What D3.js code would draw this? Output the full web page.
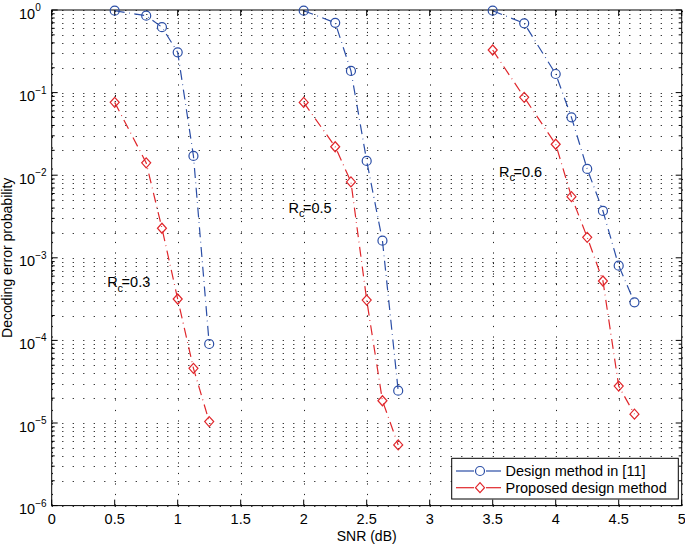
<!DOCTYPE html>
<html><head><meta charset="utf-8">
<script src="https://cdn.jsdelivr.net/npm/d3@7"></script>
<style>
body{margin:0;background:#fff;}
svg{display:block;font-family:"Liberation Sans",Arial,Helvetica,sans-serif;}
</style></head><body>
<svg id="c" width="685" height="544"></svg>
<script>
// ---- data ----
const snr03 = [0.5, 0.75, 0.875, 1.0, 1.125, 1.25];
const ref03 = [0.98, 0.853, 0.62, 0.307, 0.0171, 9.05e-5];
const prop03 = [0.0762, 0.0141, 0.00228, 3.17e-4, 4.59e-5, 1.04e-5];

const snr05 = [2.0, 2.25, 2.375, 2.5, 2.625, 2.75];
const ref05 = [0.98, 0.70, 0.183, 0.0149, 0.00161, 2.46e-5];
const prop05 = [0.076, 0.0221, 0.0083, 3.08e-4, 1.86e-5, 5.42e-6];

const snr06 = [3.5, 3.75, 4.0, 4.125, 4.25, 4.375, 4.5, 4.625];
const ref06 = [0.98, 0.69, 0.168, 0.0502, 0.0119, 0.00369, 8.03e-4, 2.89e-4];
const prop06 = [0.328, 0.0877, 0.0237, 0.0055, 0.00177, 5.24e-4, 2.8e-5, 1.28e-5];

const xTicks = [0, 0.5, 1, 1.5, 2, 2.5, 3, 3.5, 4, 4.5, 5];
const yExps = [0, -1, -2, -3, -4, -5, -6];
const rateLabels = [
  {snr: 0.44, p: 4.4e-4, rate: "0.3"},
  {snr: 1.88, p: 3.5e-3, rate: "0.5"},
  {snr: 3.55, p: 9.6e-3, rate: "0.6"}
];
const legendItems = ["Design method in [11]", "Proposed design method"];

// ---- layout ----
const L = 51.7, R = 681.7, T = 10, B = 505.6;
const blue = "#2b4ea6", red = "#e0262b";
const FS = 14.5;
const svg = d3.select("#c");
const x = d3.scaleLinear().domain([0, 5]).range([L, R]);
const y = d3.scaleLog().domain([1e-6, 1]).range([B, T]);

// grid
const grid = svg.append("g").attr("stroke", "#222").attr("stroke-width", 1)
  .attr("stroke-dasharray", "1.2,9.3");
const yGridVals = [];
for (let e = -6; e < 0; e++) for (let m = 1; m <= 9; m++) yGridVals.push(m * Math.pow(10, e));
yGridVals.push(1);
yGridVals.forEach(v => {
  const yy = Math.round(y(v)) + 0.5;
  grid.append("line").attr("x1", L).attr("x2", R).attr("y1", yy).attr("y2", yy);
});
xTicks.forEach(v => {
  const xx = Math.round(x(v)) + 0.5;
  grid.append("line").attr("x1", xx).attr("x2", xx).attr("y1", B).attr("y2", T);
});

// axes box + ticks
const ax = svg.append("g").attr("stroke", "#000").attr("stroke-width", 1).attr("fill", "none");
ax.append("rect").attr("x", L).attr("y", T).attr("width", R - L).attr("height", B - T);
xTicks.forEach(v => {
  const xx = x(v);
  ax.append("line").attr("x1", xx).attr("x2", xx).attr("y1", B).attr("y2", B - 6);
  ax.append("line").attr("x1", xx).attr("x2", xx).attr("y1", T).attr("y2", T + 6);
});
yGridVals.forEach(v => {
  const yy = y(v);
  const major = Math.abs(Math.log10(v) - Math.round(Math.log10(v))) < 1e-9;
  const len = major ? 6 : 3;
  ax.append("line").attr("x1", L).attr("x2", L + len).attr("y1", yy).attr("y2", yy);
  ax.append("line").attr("x1", R).attr("x2", R - len).attr("y1", yy).attr("y2", yy);
});

// tick labels
const tl = svg.append("g").attr("font-size", FS).attr("fill", "#000");
xTicks.forEach(v => {
  tl.append("text").attr("x", x(v)).attr("y", 524).attr("text-anchor", "middle").text(d3.format("")(v));
});
yExps.forEach(e => {
  const t = tl.append("text").attr("x", 19).attr("y", y(Math.pow(10, e)) + 8.5);
  t.append("tspan").text("10");
  t.append("tspan").attr("font-size", 10).attr("dy", -7.5).text(e === 0 ? "0" : "\u2212" + Math.abs(e));
});
svg.append("text").attr("font-size", 14).attr("text-anchor", "middle")
  .attr("x", (L + R) / 2).attr("y", 541).text("SNR (dB)");
svg.append("text").attr("font-size", 14).attr("text-anchor", "middle")
  .attr("transform", `translate(12,${(T + B) / 2}) rotate(-90)`).text("Decoding error probability");

// series
const dash = "10,4.5,0.8,4.5";
const line = d3.line().x(d => x(d[0])).y(d => y(d[1]));
const groups = [[snr03, ref03, prop03], [snr05, ref05, prop05], [snr06, ref06, prop06]];
const diamond = (cx, cy) => `M${cx},${cy - 5}L${cx + 4.5},${cy}L${cx},${cy + 5}L${cx - 4.5},${cy}Z`;
groups.forEach(([s, b, r]) => {
  const bd = s.map((v, i) => [v, b[i]]);
  const rd = s.map((v, i) => [v, r[i]]);
  svg.append("path").datum(bd).attr("d", line).attr("fill", "none").attr("stroke", blue)
    .attr("stroke-width", 1.2).attr("stroke-dasharray", dash);
  svg.append("path").datum(rd).attr("d", line).attr("fill", "none").attr("stroke", red)
    .attr("stroke-width", 1.2).attr("stroke-dasharray", dash);
  svg.append("g").selectAll("circle").data(bd).join("circle")
    .attr("cx", d => x(d[0])).attr("cy", d => y(d[1])).attr("r", 4.5)
    .attr("fill", "none").attr("stroke", blue).attr("stroke-width", 1.2);
  svg.append("g").selectAll("path").data(rd).join("path")
    .attr("d", d => diamond(x(d[0]), y(d[1])))
    .attr("fill", "none").attr("stroke", red).attr("stroke-width", 1.2);
});

// rate labels
rateLabels.forEach(l => {
  const t = svg.append("text").attr("font-size", FS).attr("x", x(l.snr)).attr("y", y(l.p));
  t.append("tspan").text("R");
  t.append("tspan").attr("font-size", 11).attr("dy", 4.5).text("c");
  t.append("tspan").attr("dy", -4.5).attr("dx", -1.5).text("=" + l.rate);
});

// legend
const lg = svg.append("g");
lg.append("rect").attr("x", 451.7).attr("y", 458.3).attr("width", 226.6).attr("height", 40.7)
  .attr("fill", "#fff").attr("stroke", "#000").attr("stroke-width", 1);
legendItems.forEach((name, i) => {
  const cy = 471 + i * 16.7;
  const col = i === 0 ? blue : red;
  lg.append("line").attr("x1", 456).attr("x2", 474).attr("y1", cy).attr("y2", cy).attr("stroke", col).attr("stroke-width", 1.2);
  lg.append("line").attr("x1", 486).attr("x2", 501).attr("y1", cy).attr("y2", cy).attr("stroke", col).attr("stroke-width", 1.2);
  if (i === 0) {
    lg.append("circle").attr("cx", 480).attr("cy", cy).attr("r", 4.5).attr("fill", "none").attr("stroke", col).attr("stroke-width", 1.2);
  } else {
    lg.append("path").attr("d", diamond(480, cy)).attr("fill", "none").attr("stroke", col).attr("stroke-width", 1.2);
  }
  lg.append("text").attr("x", 505.5).attr("y", cy + 5).attr("font-size", FS).text(name);
});
</script>
</body></html>
